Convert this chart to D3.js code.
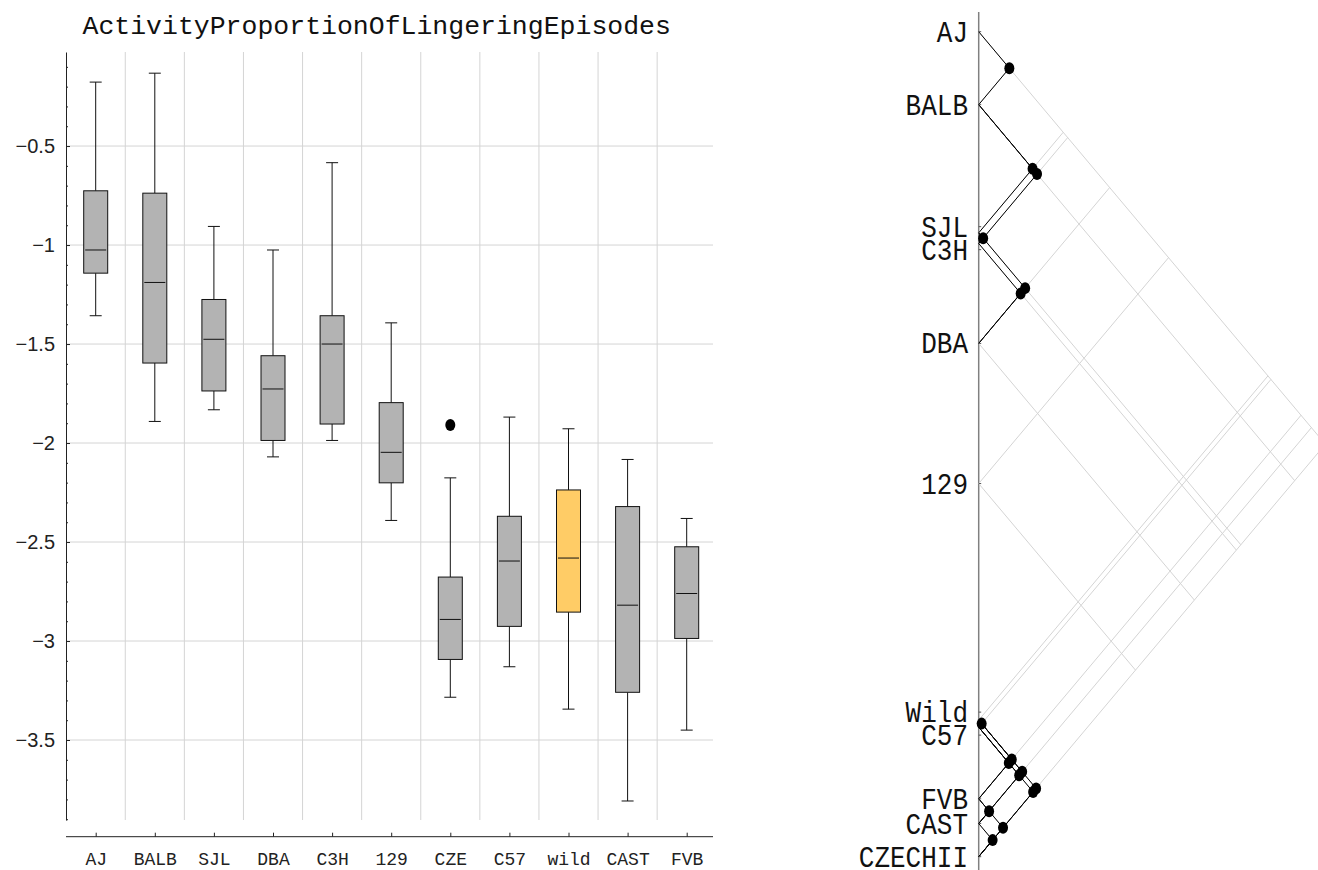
<!DOCTYPE html>
<html>
<head>
<meta charset="utf-8">
<script src="https://cdn.jsdelivr.net/npm/d3@7"></script>
<style>
  html, body { margin: 0; padding: 0; background: #fff; }
  svg { display: block; }
</style>
</head>
<body>
<svg id="chart" width="1318" height="870"></svg>
<script>
// ---------------- data ----------------
const title = "ActivityProportionOfLingeringEpisodes";
const categories   = ["AJ", "BALB", "SJL", "DBA", "C3H", "129", "CZE", "C57", "wild", "CAST", "FVB"];
const whiskerLow   = [-1.357, -1.891, -1.832, -2.070, -1.987, -2.391, -3.284, -3.130, -3.344, -3.808, -3.450];
const quartile1    = [-1.142, -1.596, -1.737, -1.987, -1.904, -2.201, -3.093, -2.926, -2.854, -3.259, -2.987];
const medians      = [-1.025, -1.189, -1.476, -1.727, -1.500, -2.047, -2.891, -2.596, -2.581, -2.819, -2.760];
const quartile3    = [-0.726, -0.738, -1.275, -1.559, -1.357, -1.796, -2.677, -2.370, -2.237, -2.321, -2.524];
const whiskerHigh  = [-0.177, -0.132, -0.906, -1.025, -0.584, -1.393, -2.176, -1.869, -1.928, -2.083, -2.381];
const outlierCats  = ["CZE"];
const outlierVals  = [-1.909];
const highlighted  = ["wild"];
const yTickValues  = [-0.5, -1, -1.5, -2, -2.5, -3, -3.5];

// right panel: leaves (ordered) and groups of non-different strains
const treeLabels = ["AJ", "BALB", "SJL", "C3H", "DBA", "129", "Wild", "C57", "FVB", "CAST", "CZECHII"];
const treeValues = [-1.025, -1.190, -1.480, -1.504, -1.730, -2.047, -2.582, -2.598, -2.760, -2.816, -2.891];
const treeGroups = [
  ["AJ", "BALB"],
  ["BALB", "SJL", "C3H"],
  ["SJL", "C3H", "DBA"],
  ["Wild", "C57", "FVB", "CAST", "CZECHII"]
];

// ---------------- layout ----------------
const svg = d3.select("#chart");
const monoFont = "'Liberation Mono', 'DejaVu Sans Mono', monospace";
const sansFont = "'Liberation Sans', Arial, sans-serif";
const gridColor = "#d4d4d4";

const x = d3.scalePoint().domain(categories).range([95.7, 686.7]);
const step = x.step();
const plotLeft = 66, plotRight = 713, plotTop = 52, plotBottom = 820, xAxisY = 836.7;
const y = d3.scaleLinear().domain([-3.904, -0.025]).range([plotBottom, plotTop]);

const boxes = categories.map((c, i) => ({
  cat: c, lo: whiskerLow[i], q1: quartile1[i], med: medians[i], q3: quartile3[i], hi: whiskerHigh[i]
}));

// title
svg.append("text")
  .attr("x", 82.5).attr("y", 34)
  .attr("font-family", monoFont).attr("font-size", 26.5)
  .attr("fill", "#111")
  .text(title);

// grid
const grid = svg.append("g");
grid.selectAll("line.h").data(yTickValues).join("line")
  .attr("x1", plotLeft).attr("x2", plotRight)
  .attr("y1", d => y(d)).attr("y2", d => y(d))
  .attr("stroke", gridColor).attr("stroke-width", 1);
grid.selectAll("line.v").data(categories.slice(1)).join("line")
  .attr("x1", d => x(d) - step / 2).attr("x2", d => x(d) - step / 2)
  .attr("y1", plotTop).attr("y2", plotBottom)
  .attr("stroke", gridColor).attr("stroke-width", 1);

// y axis (major + minor)
const minorTicks = d3.range(-39, 0).map(v => v / 10).filter(v => Math.abs(v * 2 - Math.round(v * 2)) > 1e-6);
const yMinor = svg.append("g").attr("transform", `translate(${plotLeft},0)`)
  .call(d3.axisLeft(y).tickValues(minorTicks).tickSize(-2).tickSizeOuter(0).tickFormat(""));
yMinor.select(".domain").remove();
const yAxis = svg.append("g").attr("transform", `translate(${plotLeft},0)`)
  .call(d3.axisLeft(y).tickValues(yTickValues).tickSize(-4).tickSizeOuter(0).tickPadding(11)
    .tickFormat(d => String(d).replace("-", "\u2212")));
yAxis.selectAll("text").attr("font-family", sansFont).attr("font-size", 20).attr("fill", "#222");
svg.selectAll(".tick line").attr("stroke", "#222");
yAxis.select(".domain").attr("stroke", "#222");

// x axis
const xAxis = svg.append("g").attr("transform", `translate(0,${xAxisY})`)
  .call(d3.axisBottom(x).tickSize(-4).tickSizeOuter(0).tickPadding(16));
xAxis.select(".domain").attr("d", `M${plotLeft},0H${plotRight}`).attr("stroke", "#222");
xAxis.selectAll("line").attr("stroke", "#222");
xAxis.selectAll("text").attr("font-family", monoFont).attr("font-size", 18).attr("fill", "#222");

// boxes
const boxW = 24, capW = 12;
const bg = svg.append("g").selectAll("g").data(boxes).join("g");
bg.append("line")
  .attr("x1", d => x(d.cat)).attr("x2", d => x(d.cat))
  .attr("y1", d => y(d.hi)).attr("y2", d => y(d.q3))
  .attr("stroke", "#111").attr("stroke-width", 1);
bg.append("line")
  .attr("x1", d => x(d.cat)).attr("x2", d => x(d.cat))
  .attr("y1", d => y(d.q1)).attr("y2", d => y(d.lo))
  .attr("stroke", "#111").attr("stroke-width", 1);
bg.append("line")
  .attr("x1", d => x(d.cat) - capW / 2).attr("x2", d => x(d.cat) + capW / 2)
  .attr("y1", d => y(d.hi)).attr("y2", d => y(d.hi))
  .attr("stroke", "#111").attr("stroke-width", 1);
bg.append("line")
  .attr("x1", d => x(d.cat) - capW / 2).attr("x2", d => x(d.cat) + capW / 2)
  .attr("y1", d => y(d.lo)).attr("y2", d => y(d.lo))
  .attr("stroke", "#111").attr("stroke-width", 1);
bg.append("rect")
  .attr("x", d => x(d.cat) - boxW / 2).attr("width", boxW)
  .attr("y", d => y(d.q3)).attr("height", d => y(d.q1) - y(d.q3))
  .attr("fill", d => highlighted.includes(d.cat) ? "#ffcc66" : "#b3b3b3")
  .attr("stroke", "#111").attr("stroke-width", 1);
bg.append("line")
  .attr("x1", d => x(d.cat) - boxW / 2 + 1.5).attr("x2", d => x(d.cat) + boxW / 2 - 1.5)
  .attr("y1", d => y(d.med)).attr("y2", d => y(d.med))
  .attr("stroke", "#111").attr("stroke-width", 1);

// outliers
svg.append("g").selectAll("ellipse").data(outlierCats.map((c, i) => ({ cat: c, v: outlierVals[i] }))).join("ellipse")
  .attr("cx", d => x(d.cat)).attr("cy", d => y(d.v))
  .attr("rx", 5).attr("ry", 6).attr("fill", "#000");

// ---------------- right panel ----------------
const tx0 = 978.7, slope = 1.19;
const ty = d3.scaleLinear().domain([-1.025, -2.891]).range([31.7, 856.7]);
const leaves = treeLabels.map((l, i) => ({ label: l, y: ty(treeValues[i]), i }));
const n = leaves.length;
const node = (a, b) => ({ x: tx0 + (leaves[b].y - leaves[a].y) / (2 * slope), y: (leaves[a].y + leaves[b].y) / 2 });

// axis line
svg.append("line").attr("x1", tx0).attr("x2", tx0).attr("y1", 12).attr("y2", 870)
  .attr("stroke", "#808080").attr("stroke-width", 1.5);

// gray lattice
const tg = svg.append("g");
const grayLines = [];
leaves.forEach((lf, i) => {
  if (i < n - 1) { const p = node(i, n - 1); grayLines.push([tx0, lf.y, p.x, p.y]); }
  if (i > 0) { const p = node(0, i); grayLines.push([tx0, lf.y, p.x, p.y]); }
});
tg.selectAll("line").data(grayLines).join("line")
  .attr("x1", d => d[0]).attr("y1", d => d[1]).attr("x2", d => d[2]).attr("y2", d => d[3])
  .attr("stroke", gridColor).attr("stroke-width", 1);

// black pairs
const pairKeys = new Set();
const pairs = [];
treeGroups.forEach(g => {
  const idx = g.map(l => treeLabels.indexOf(l)).sort((a, b) => a - b);
  for (let a = 0; a < idx.length; a++) for (let b = a + 1; b < idx.length; b++) {
    const k = idx[a] + "-" + idx[b];
    if (!pairKeys.has(k)) { pairKeys.add(k); pairs.push([idx[a], idx[b]]); }
  }
});
const bgp = svg.append("g");
bgp.selectAll("path").data(pairs).join("path")
  .attr("d", d => { const p = node(d[0], d[1]); return `M${tx0},${leaves[d[0]].y}L${p.x},${p.y}L${tx0},${leaves[d[1]].y}`; })
  .attr("fill", "none").attr("stroke", "#000").attr("stroke-width", 1);
bgp.selectAll("ellipse").data(pairs).join("ellipse")
  .attr("cx", d => node(d[0], d[1]).x).attr("cy", d => node(d[0], d[1]).y)
  .attr("rx", 5).attr("ry", 6).attr("fill", "#000");

// label positions (spread apart when leaves are too close)
const minGap = 23;
const labelY = leaves.map(l => l.y);
for (let iter = 0; iter < 20; iter++) {
  for (let i = 0; i < n - 1; i++) {
    const gap = labelY[i + 1] - labelY[i];
    if (gap < minGap) {
      const mid = (labelY[i] + labelY[i + 1]) / 2;
      labelY[i] = mid - minGap / 2; labelY[i + 1] = mid + minGap / 2;
    }
  }
}
svg.append("g").selectAll("line").data(leaves).join("line")
  .attr("x1", tx0).attr("x2", tx0 + 2.5)
  .attr("y1", (d, i) => labelY[i]).attr("y2", (d, i) => labelY[i])
  .attr("stroke", "#555").attr("stroke-width", 1);
svg.append("g").selectAll("text").data(leaves).join("text")
  .attr("transform", (d, i) => `translate(968,${labelY[i]}) scale(1,1.1)`)
  .attr("dy", "0.35em")
  .attr("text-anchor", "end")
  .attr("font-family", monoFont).attr("font-size", 26).attr("fill", "#111")
  .text(d => d.label);
</script>
</body>
</html>
